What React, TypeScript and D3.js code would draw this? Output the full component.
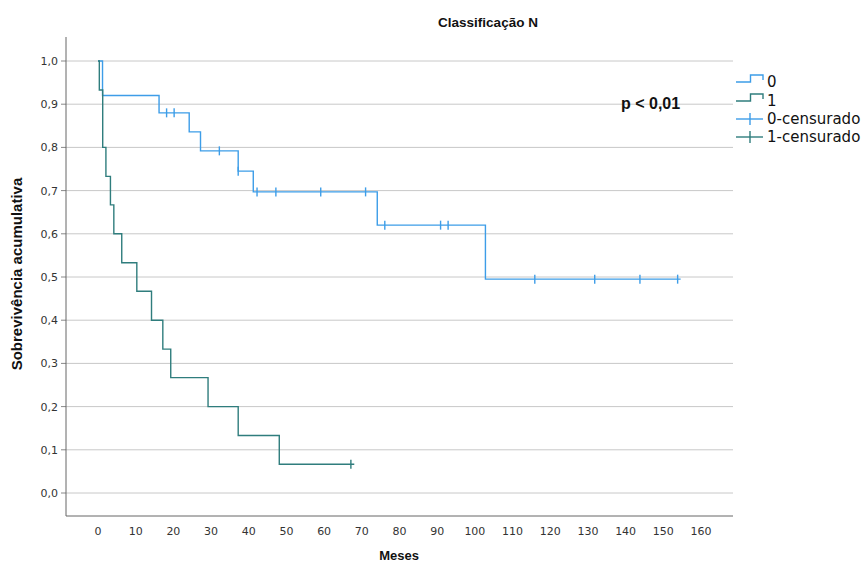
import React from "react";
import * as d3 from "d3";

const title = "Classificação N";
const xLabel = "Meses";
const yLabel = "Sobrevivência acumulativa";
const pText = "p < 0,01";

const xTicks = [0, 10, 20, 30, 40, 50, 60, 70, 80, 90, 100, 110, 120, 130, 140, 150, 160];
const yTicks = [0, 0.1, 0.2, 0.3, 0.4, 0.5, 0.6, 0.7, 0.8, 0.9, 1.0];

// Group 0
const g0Times = [0, 1.2, 16.2, 24.2, 27.2, 37.2, 41.2, 74.1, 102.8];
const g0Surv = [1.0, 0.92, 0.88, 0.836, 0.792, 0.745, 0.697, 0.62, 0.495];
const g0End = 154.6;
const g0Censor = [18.2, 20.2, 32.2, 37.2, 42.2, 47.2, 59.1, 71.0, 76.1, 90.9, 92.9, 115.9, 131.8, 143.8, 153.8];

// Group 1
const g1Times = [0, 0.35, 1.25, 2.1, 3.3, 4.2, 6.3, 10.3, 14.2, 17.2, 19.3, 29.2, 37.2, 48.1];
const g1Surv = [1.0, 0.933, 0.8, 0.733, 0.667, 0.6, 0.533, 0.467, 0.4, 0.333, 0.267, 0.2, 0.133, 0.0667];
const g1End = 68.0;
const g1Censor = [67.1];

const legendLabels = ["0", "1", "0-censurado", "1-censurado"];

const C0 = "#3d9de8";
const C1 = "#2f7d7d";

const W = 864, H = 564;

function survAt(times: number[], surv: number[], t: number) {
  let s = surv[0];
  for (let i = 0; i < times.length; i++) if (times[i] <= t) s = surv[i];
  return s;
}

export default function App() {
  const x = d3.scaleLinear().domain([0, 160]).range([98, 701]);
  const y = d3.scaleLinear().domain([0, 1]).range([493, 61]);
  const plotL = 66, plotR = 733, plotB = 516, plotT = 37;

  const line = d3.line<[number, number]>().x(d => x(d[0])).y(d => y(d[1])).curve(d3.curveStepAfter);
  const pts0: [number, number][] = g0Times.map((t, i) => [t, g0Surv[i]] as [number, number]);
  pts0.push([g0End, g0Surv[g0Surv.length - 1]]);
  const pts1: [number, number][] = g1Times.map((t, i) => [t, g1Surv[i]] as [number, number]);
  pts1.push([g1End, g1Surv[g1Surv.length - 1]]);

  const font = "'DejaVu Sans', sans-serif";
  const bold = "'Liberation Sans', Arial, sans-serif";

  const legX = 736;
  const legY = [82, 101, 119, 137];

  return (
    <svg width={W} height={H} style={{ position: "absolute", left: 0, top: 0, background: "#fff" }}>
      <rect x={0} y={0} width={W} height={H} fill="#fff" />
      {yTicks.map(v => (
        <line key={"g" + v} x1={plotL} x2={plotR} y1={y(v)} y2={y(v)} stroke="#c8c8c8" strokeWidth={1} />
      ))}
      {yTicks.map(v => (
        <line key={"t" + v} x1={61} x2={plotL} y1={y(v)} y2={y(v)} stroke="#888" strokeWidth={1} />
      ))}
      <line x1={plotL} x2={plotL} y1={plotT} y2={plotB} stroke="#666" strokeWidth={1} />
      <line x1={plotL} x2={plotR} y1={plotB} y2={plotB} stroke="#666" strokeWidth={1} />
      {yTicks.map(v => (
        <text key={"yl" + v} x={58} y={y(v) + 4} textAnchor="end" fontFamily={font} fontSize={11} fill="#333">
          {d3.format(".1f")(v).replace(".", ",")}
        </text>
      ))}
      {xTicks.map(v => (
        <text key={"xl" + v} x={x(v)} y={535} textAnchor="middle" fontFamily={font} fontSize={11} fill="#333">
          {v}
        </text>
      ))}

      <path d={line(pts0) || ""} fill="none" stroke={C0} strokeWidth={1.4} />
      <path d={line(pts1) || ""} fill="none" stroke={C1} strokeWidth={1.4} />
      {g0Censor.map((t, i) => {
        const s = survAt(g0Times, g0Surv, t);
        return <line key={"c0" + i} x1={x(t)} x2={x(t)} y1={y(s) - 4.5} y2={y(s) + 4.5} stroke={C0} strokeWidth={1.4} />;
      })}
      {g1Censor.map((t, i) => {
        const s = survAt(g1Times, g1Surv, t);
        return <line key={"c1" + i} x1={x(t)} x2={x(t)} y1={y(s) - 4.5} y2={y(s) + 4.5} stroke={C1} strokeWidth={1.4} />;
      })}

      <text x={488} y={27} textAnchor="middle" fontFamily={bold} fontWeight="bold" fontSize={13.5} fill="#111">{title}</text>
      <text x={399} y={560} textAnchor="middle" fontFamily={bold} fontWeight="bold" fontSize={13} fill="#111">{xLabel}</text>
      <text transform="translate(22,274) rotate(-90)" textAnchor="middle" fontFamily={bold} fontWeight="bold" fontSize={15} fill="#111">{yLabel}</text>
      <text x={621} y={109} fontFamily={bold} fontWeight="bold" fontSize={16} fill="#111">{pText}</text>

      {[0, 1].map(i => (
        <path key={"ls" + i} d={`M${legX},${legY[i]}H${legX + 14.5}V${legY[i] - 7}H${legX + 27}V${legY[i] - 2}`} fill="none" stroke={i === 0 ? C0 : C1} strokeWidth={1.4} />
      ))}
      {[2, 3].map(i => (
        <g key={"lc" + i}>
          <line x1={legX} x2={legX + 27} y1={legY[i]} y2={legY[i]} stroke={i === 2 ? C0 : C1} strokeWidth={1.4} />
          <line x1={legX + 14} x2={legX + 14} y1={legY[i] - 6} y2={legY[i] + 6} stroke={i === 2 ? C0 : C1} strokeWidth={1.4} />
        </g>
      ))}
      {legendLabels.map((l, i) => (
        <text key={"lt" + i} x={767} y={legY[i] + 4.5} fontFamily={font} fontSize={15} fill="#111">{l}</text>
      ))}
    </svg>
  );
}
